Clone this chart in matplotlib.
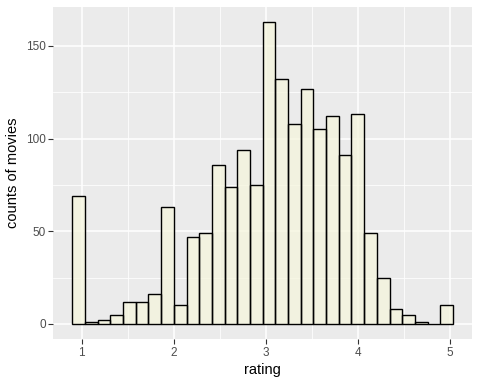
import numpy as np
import matplotlib
matplotlib.use("Agg")
import matplotlib.pyplot as plt

# Histogram counts (30 bins, ggplot default binning over ratings 1..5)
counts = [69, 1, 2, 5, 12, 12, 16, 63, 10, 47, 49, 86, 74, 94, 75,
          163, 132, 108, 127, 105, 112, 91, 113, 49, 25, 8, 5, 1, 0, 10]
rating_min, rating_max = 1.0, 5.0
n_bins = 30
x_ticks = [1, 2, 3, 4, 5]
y_ticks = [0, 50, 100, 150]

# ggplot2 bins= algorithm
bw = (rating_max - rating_min) / (n_bins - 1)
boundary = bw / 2
origin = boundary + np.floor((rating_min - boundary) / bw) * bw
edges = origin + bw * np.arange(n_bins + 1)

plt.rcParams['font.family'] = ['Liberation Sans', 'DejaVu Sans']
fig = plt.figure(figsize=(4.8, 3.84), dpi=100)
ax = fig.add_axes([53.3/480, 1 - 339/384, (472 - 53.3)/480, (339 - 6.7)/384])
ax.set_facecolor('#EBEBEB')

# grid
for v in [1.5, 2.5, 3.5, 4.5]:
    ax.axvline(v, color='white', lw=0.55, zorder=0)
for v in [25, 75, 125]:
    ax.axhline(v, color='white', lw=0.55, zorder=0)
for v in x_ticks:
    ax.axvline(v, color='white', lw=1.1, zorder=0)
for v in y_ticks:
    ax.axhline(v, color='white', lw=1.1, zorder=0)

ax.bar(edges[:-1], counts, width=bw, align='edge', color='#F5F5DC', alpha=0.7,
       zorder=2)
ax.bar(edges[:-1], counts, width=bw, align='edge', fill=False,
       edgecolor='black', linewidth=1.0, zorder=3)

xr = edges[-1] - edges[0]
ax.set_xlim(edges[0] - 0.05 * xr, edges[-1] + 0.05 * xr)
ymax = max(counts)
ax.set_ylim(-0.05 * ymax, ymax * 1.05)

ax.set_xticks(x_ticks)
ax.set_yticks(y_ticks)
ax.set_xticklabels([str(t) for t in x_ticks])
ax.set_yticklabels([str(t) for t in y_ticks])
ax.tick_params(axis='both', length=3.5, width=0.8, color='#333333',
               labelcolor='#4D4D4D', labelsize=8.5, pad=2)
for s in ax.spines.values():
    s.set_visible(False)

ax.set_xlabel('rating', fontsize=10.5, color='black', labelpad=3)
ax.set_ylabel('counts of movies', fontsize=10.5, color='black', labelpad=4)

fig.savefig('out.png', dpi=100)
